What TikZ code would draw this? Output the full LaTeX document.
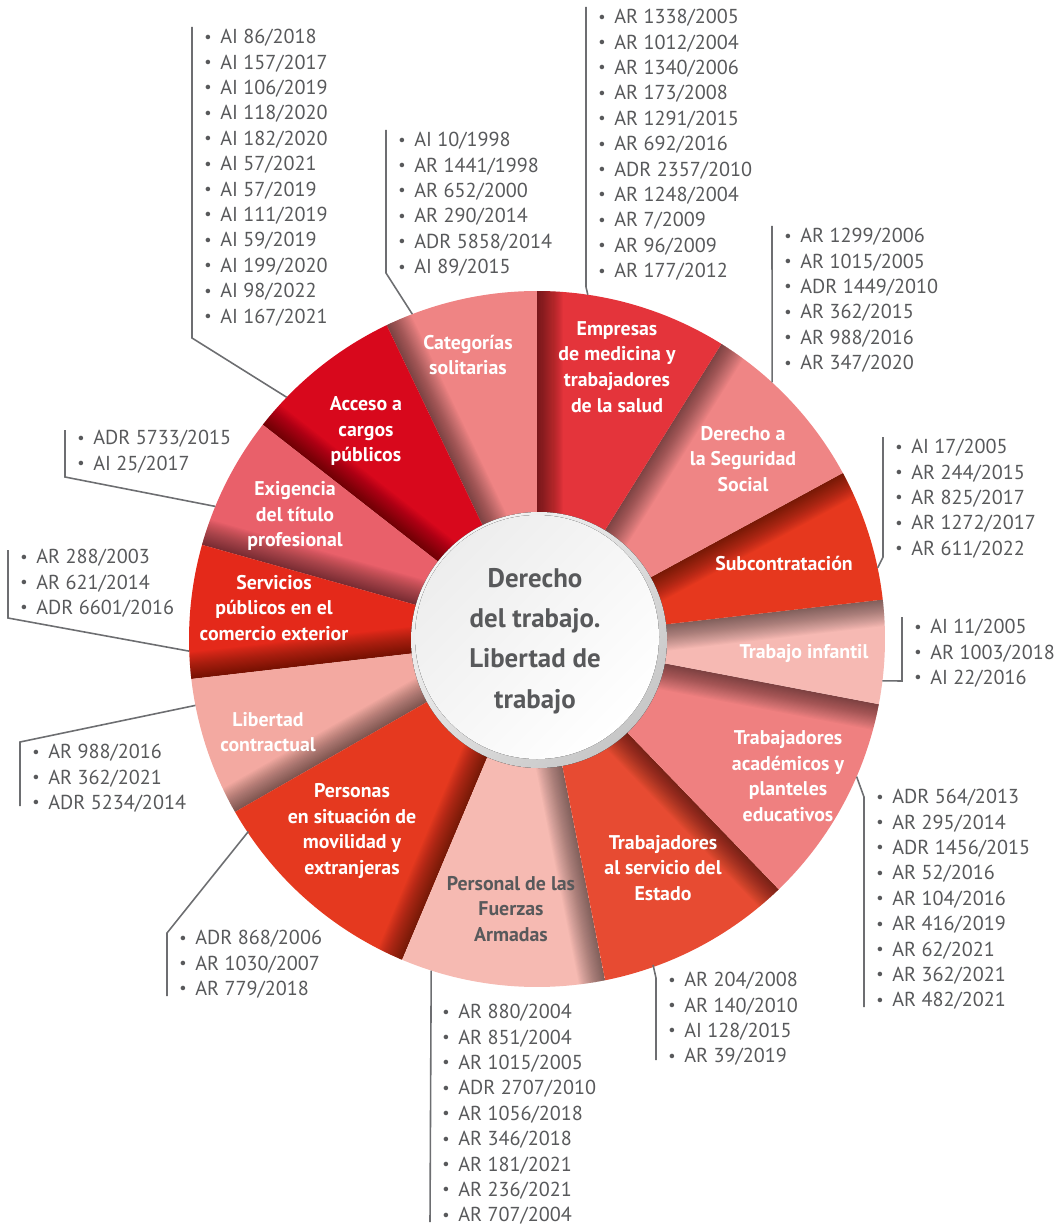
\documentclass[tikz,border=0pt]{standalone}
\usepackage{fontspec}
\setmainfont{PT Sans}
\usepackage{graphicx}
\usetikzlibrary{calc}

\definecolor{txtgray}{HTML}{58595B}
\definecolor{leadgray}{HTML}{6D6E71}
\definecolor{catpink}{HTML}{EF8484}
\definecolor{empred}{HTML}{E4343B}
\definecolor{segpink}{HTML}{EF8585}
\definecolor{subred}{HTML}{E6381E}
\definecolor{infpink}{HTML}{F6B9B3}
\definecolor{acapink}{HTML}{EF8080}
\definecolor{estred}{HTML}{E74B32}
\definecolor{fzapink}{HTML}{F6BAB2}
\definecolor{perred}{HTML}{E5391F}
\definecolor{libpink}{HTML}{F3A9A1}
\definecolor{serred}{HTML}{E4291A}
\definecolor{exired}{HTML}{E9606A}
\definecolor{accred}{HTML}{D8081C}

\newcommand{\itm}{\makebox[0.32cm][l]{\raisebox{0.08em}{\scalebox{0.8}{\textbullet}}}}

\begin{document}
\begin{tikzpicture}[x=0.02cm, y=0.02cm,
  lead/.style={draw=leadgray, line width=0.9pt},
  case/.style={anchor=north west, align=left, text=txtgray, inner xsep=0.24cm, inner ysep=0.04cm,
    font=\fontsize{11.5pt}{14.46pt}\selectfont},
  sect/.style={align=center, text=white, inner sep=0pt, font=\fontsize{11.3pt}{14.7pt}\selectfont\bfseries},
  hubtext/.style={align=center, text=txtgray, inner sep=0pt,
    font=\fontsize{15.3pt}{23pt}\selectfont\bfseries}]
\useasboundingbox (0,0) rectangle (1059,-1226);
\coordinate (c) at (537,-639);

% wedges, each one shaded along its counterclockwise edge
\foreach \a/\b/\col in {90/115.6/catpink, 115.6/142/accred, 142/164.3/exired,
    164.3/186.6/serred, 186.6/209.8/libpink, 209.8/247.2/perred, 247.2/281.3/fzapink,
    281.3/314/estred, 314/349.2/acapink, -10.8/6.5/infpink, 6.5/28.5/subred,
    28.5/58/segpink, 58/90/empred}{
  \fill[\col] (c) -- ++(\a:348) arc[start angle=\a, end angle=\b, radius=348] -- cycle;
  \begin{scope}
    \clip (c) -- ++(\a:348) arc[start angle=\a, end angle=\b, radius=348] -- cycle;
    \begin{scope}[shift={(c)}, rotate=\b]
      \foreach \k in {1,...,24}
        \fill[black, opacity=0.022] (0,-1.1*\k) rectangle (360,0);
    \end{scope}
  \end{scope}
}

% hub
\fill[top color=black!4, bottom color=black!22, shading angle=45] (539,-640) circle (128);
\fill[top color=black!7, bottom color=white, shading angle=45] (537,-637) circle (122);
\node[hubtext] (hub) at (535,-641) {Derecho\\del trabajo.\\Libertad de\\trabajo};

% wedge labels
\node[sect] (cat-t) at (468,-355) {Categorías\\solitarias};
\node[sect] (emp-t) at (617,-367) {Empresas\\de medicina y\\trabajadores\\de la salud};
\node[sect] (seg-t) at (743,-459) {Derecho a\\la Seguridad\\Social};
\node[sect] (sub-t) at (784,-563) {Subcontratación};
\node[sect] (inf-t) at (804,-654) {Trabajo infantil};
\node[sect] (aca-t) at (788,-776) {Trabajadores\\académicos y\\planteles\\educativos};
\node[sect] (est-t) at (663,-868) {Trabajadores\\al servicio del\\Estado};
\node[sect, text=txtgray] (fza-t) at (511,-909) {Personal de las\\Fuerzas\\Armadas};
\node[sect] (per-t) at (352,-831) {Personas\\en situación de\\movilidad y\\extranjeras};
\node[sect] (lib-t) at (268,-732) {Libertad\\contractual};
\node[sect] (ser-t) at (274,-608) {Servicios\\públicos en el\\comercio exterior};
\node[sect] (exi-t) at (295,-516) {Exigencia\\del título\\profesional};
\node[sect] (acc-t) at (366,-431) {Acceso a\\cargos\\públicos};

% case lists
\node[case] (acc) at (192,-27) {\itm AI 86/2018\\\itm AI 157/2017\\\itm AI 106/2019\\\itm AI 118/2020\\\itm AI 182/2020\\\itm AI 57/2021\\\itm AI 57/2019\\\itm AI 111/2019\\\itm AI 59/2019\\\itm AI 199/2020\\\itm AI 98/2022\\\itm AI 167/2021};
\node[case] (cat) at (386,-130) {\itm AI 10/1998\\\itm AR 1441/1998\\\itm AR 652/2000\\\itm AR 290/2014\\\itm ADR 5858/2014\\\itm AI 89/2015};
\node[case] (emp) at (586,-7) {\itm AR 1338/2005\\\itm AR 1012/2004\\\itm AR 1340/2006\\\itm AR 173/2008\\\itm AR 1291/2015\\\itm AR 692/2016\\\itm ADR 2357/2010\\\itm AR 1248/2004\\\itm AR 7/2009\\\itm AR 96/2009\\\itm AR 177/2012};
\node[case] (seg) at (772,-226) {\itm AR 1299/2006\\\itm AR 1015/2005\\\itm ADR 1449/2010\\\itm AR 362/2015\\\itm AR 988/2016\\\itm AR 347/2020};
\node[case] (sub) at (883,-437) {\itm AI 17/2005\\\itm AR 244/2015\\\itm AR 825/2017\\\itm AR 1272/2017\\\itm AR 611/2022};
\node[case] (inf) at (902,-617) {\itm AI 11/2005\\\itm AR 1003/2018\\\itm AI 22/2016};
\node[case] (aca) at (864,-787) {\itm ADR 564/2013\\\itm AR 295/2014\\\itm ADR 1456/2015\\\itm AR 52/2016\\\itm AR 104/2016\\\itm AR 416/2019\\\itm AR 62/2021\\\itm AR 362/2021\\\itm AR 482/2021};
\node[case] (est) at (656,-970) {\itm AR 204/2008\\\itm AR 140/2010\\\itm AI 128/2015\\\itm AR 39/2019};
\node[case] (fza) at (430,-1002) {\itm AR 880/2004\\\itm AR 851/2004\\\itm AR 1015/2005\\\itm ADR 2707/2010\\\itm AR 1056/2018\\\itm AR 346/2018\\\itm AR 181/2021\\\itm AR 236/2021\\\itm AR 707/2004};
\node[case] (per) at (167,-928) {\itm ADR 868/2006\\\itm AR 1030/2007\\\itm AR 779/2018};
\node[case] (lib) at (20,-742) {\itm AR 988/2016\\\itm AR 362/2021\\\itm ADR 5234/2014};
\node[case] (ser) at (8,-547) {\itm AR 288/2003\\\itm AR 621/2014\\\itm ADR 6601/2016};
\node[case] (exi) at (65,-428) {\itm ADR 5733/2015\\\itm AI 25/2017};

% ends of the leaders on the rim
\coordinate (acc-e) at ($(c)+(136:348)$);
\coordinate (cat-e) at ($(c)+(111:348)$);
\coordinate (emp-e) at ($(c)+(81.6:348)$);
\coordinate (seg-e) at ($(c)+(47.5:348)$);
\coordinate (sub-e) at ($(c)+(11.8:348)$);
\coordinate (inf-e) at ($(c)+(-6.9:348)$);
\coordinate (aca-e) at ($(c)+(-23.3:348)$);
\coordinate (est-e) at ($(c)+(-70.4:346)$);
\coordinate (fza-e) at ($(c)+(252.3:348)$);
\coordinate (per-e) at ($(c)+(213.7:347)$);
\coordinate (lib-e) at ($(c)+(191:348)$);
\coordinate (ser-e) at ($(c)+(182:348)$);
\coordinate (exi-e) at ($(c)+(157.6:348)$);

% leaders
\draw[lead] (acc.north west) -- (acc.west |- 0,-338) -- (acc-e);
\draw[lead] (cat.north west) -- (cat.west |- 0,-273) -- (cat-e);
\draw[lead] (emp.north west) -- (emp.west |- 0,-287) -- (emp-e);
\draw[lead] (seg.north west) -- (seg-e);
\draw[lead] (sub.north west) -- (sub.west |- 0,-557) -- (sub-e);
\draw[lead] (inf.north west) -- (inf.west |- 0,-681) -- (inf-e);
\draw[lead] (aca-e) -- (aca.west |- 0,-797) -- (aca.west |- 0,-1007);
\draw[lead] (est-e) -- (est.west |- 0,-978) -- (est.west |- 0,-1060);
\draw[lead] (fza-e) -- (fza.west |- 0,-1222);
\draw[lead] (per-e) -- (per.west |- 0,-933) -- (per.west |- 0,-996);
\draw[lead] (lib-e) -- (lib.west |- 0,-742) -- (lib.west |- 0,-806);
\draw[lead] (ser-e) -- (ser.west |- 0,-618) -- (ser.west |- 0,-550);
\draw[lead] (exi-e) -- (exi.west |- 0,-477) -- (exi.west |- 0,-430);
\end{tikzpicture}
\end{document}
